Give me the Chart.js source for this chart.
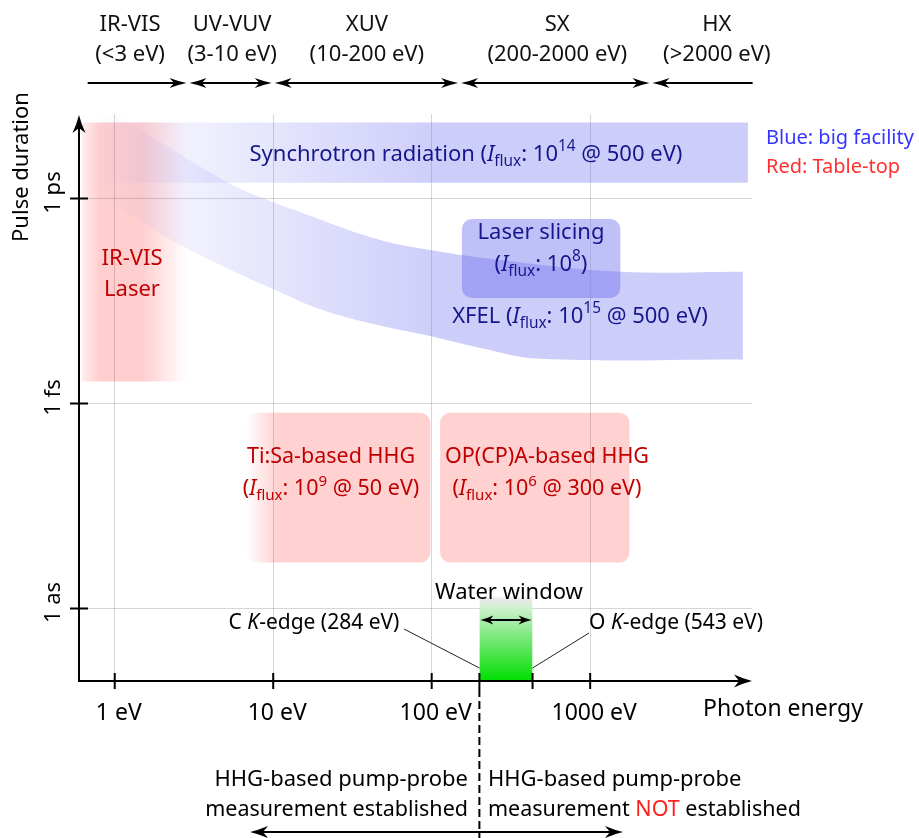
<!DOCTYPE html>
<html>
<head>
    <meta charset="utf-8">
    <title>Pulse duration vs photon energy</title>
    <script src="https://cdn.jsdelivr.net/npm/chart.js"></script>
    <style>
        body { margin: 0; background: #ffffff; }
        #wrap { width: 919px; height: 838px; position: relative; }
    </style>
</head>
<body>
<div id="wrap"><canvas id="chart"></canvas></div>
<script>
    // axis ticks
    const energyTicks = [1, 10, 100, 1000];
    const energyTickLabels = ['1 eV', '10 eV', '100 eV', '1000 eV'];
    const durationTicks = [1e-12, 1e-15, 1e-18];
    const durationTickLabels = ['1 ps', '1 fs', '1 as'];

    // spectral regions along the top (eV)
    const regionNames = ['IR-VIS', 'UV-VUV', 'XUV', 'SX', 'HX'];
    const regionRanges = ['(<3 eV)', '(3-10 eV)', '(10-200 eV)', '(200-2000 eV)', '(>2000 eV)'];
    const regionBounds = [0.675, 2.9, 10, 150, 2420, 10600];
    const regionLabelEnergy = [1.25, 5.5, 39, 620, 6300];

    // big facility sources (eV, s)
    const synchrotronEnergy = [0.6, 9900];
    const synchrotronDuration = [1.3e-11, 1.7e-12];
    const xfelUpperEnergy = [0.7, 1.94, 5.2, 9.9, 14.8, 44, 98, 270, 1550, 9200];
    const xfelUpperDuration = [2.8e-11, 6.7e-12, 1.7e-12, 8.9e-13, 6.3e-13, 2.6e-13, 1.76e-13, 1.26e-13, 8.5e-14, 8.5e-14];
    const xfelLowerEnergy = [0.68, 1.05, 2.4, 5.4, 10.3, 19.8, 41, 98, 203, 485, 9200];
    const xfelLowerDuration = [1.33e-12, 7.3e-13, 2.3e-13, 9e-14, 4.6e-14, 2.4e-14, 1.5e-14, 9.7e-15, 6.5e-15, 4.5e-15, 4.4e-15];
    const slicingEnergy = [155, 1550];
    const slicingDuration = [5e-13, 3.5e-14];

    // table-top sources
    const irVisEnergy = [0.62, 2.86];
    const irVisDuration = [1.3e-11, 2.1e-15];
    const tisaEnergy = [6.7, 98];
    const tisaDuration = [7.3e-16, 4.7e-18];
    const opcpaEnergy = [113, 1770];
    const opcpaDuration = [7.3e-16, 4.7e-18];

    // water window (eV) and its top
    const waterWindowEnergy = [200, 433];
    const waterWindowTop = 1.49e-18;

    const FONT = '"Noto Sans", "Open Sans", sans-serif';
    const BLUE = 'rgba(100,100,240,';
    const RED = 'rgba(255,0,0,';

    function edge(es, t) { return es.map(e => ({ x: e, y: t })); }
    function pts(es, ts) { return es.map((e, i) => ({ x: e, y: ts[i] })); }

    // horizontal gradient that fades in from the left
    function blueFade(c) {
        const chart = c.chart;
        if (!chart.chartArea) return BLUE + '0.32)';
        const x = chart.scales.x;
        const g = chart.ctx.createLinearGradient(x.getPixelForValue(0.7), 0, x.getPixelForValue(110), 0);
        g.addColorStop(0, BLUE + '0)');
        g.addColorStop(1, BLUE + '0.32)');
        return g;
    }
    function redFade(c) {
        const chart = c.chart;
        if (!chart.chartArea) return RED + '0.19)';
        const x = chart.scales.x;
        const g = chart.ctx.createLinearGradient(x.getPixelForValue(irVisEnergy[0]), 0, x.getPixelForValue(irVisEnergy[1]), 0);
        g.addColorStop(0, RED + '0.07)');
        g.addColorStop(0.17, RED + '0.19)');
        g.addColorStop(0.58, RED + '0.19)');
        g.addColorStop(1, RED + '0)');
        return g;
    }
    function greenFade(c) {
        const chart = c.chart;
        if (!chart.chartArea) return '#00dd00';
        const y = chart.scales.y;
        const g = chart.ctx.createLinearGradient(0, y.getPixelForValue(waterWindowTop), 0, chart.chartArea.bottom);
        g.addColorStop(0, 'rgba(200,200,200,0.2)');
        g.addColorStop(0.1, 'rgba(215,240,215,1)');
        g.addColorStop(1, 'rgb(0,222,0)');
        return g;
    }

    const common = { borderWidth: 0, borderColor: 'rgba(0,0,0,0)', pointRadius: 0, pointHoverRadius: 0 };

    // ---------- text helpers ----------
    function runFont(k, size) {
        const s = (k === 'sub' || k === 'sup') ? size * 0.7 : size;
        return (k === 'i' ? 'italic ' : '') + s + 'px ' + FONT;
    }
    function drawRuns(ctx, runs, x, y, size, color, align) {
        let w = 0;
        for (const r of runs) { ctx.font = runFont(r[1], size); w += ctx.measureText(r[0]).width; }
        let cx = align === 'left' ? x : align === 'right' ? x - w : x - w / 2;
        ctx.textAlign = 'left';
        ctx.textBaseline = 'middle';
        for (const r of runs) {
            ctx.font = runFont(r[1], size);
            ctx.fillStyle = r[2] || color;
            const dy = r[1] === 'sub' ? size * 0.3 : r[1] === 'sup' ? -size * 0.36 : 0;
            ctx.fillText(r[0], cx, y + dy);
            cx += ctx.measureText(r[0]).width;
        }
    }
    function flux(pre, exp, post) {
        return [[pre, 'n'], ['I', 'i'], ['flux', 'sub'], [': 10', 'n'], [exp, 'sup'], [post, 'n']];
    }
    function text(ctx, s, x, y, size, color, align) { drawRuns(ctx, [[s, 'n']], x, y, size, color, align || 'center'); }

    // ---------- arrows ----------
    function head(ctx, x, y, dir, len, half) {
        ctx.save();
        ctx.translate(x, y);
        ctx.rotate(dir);
        ctx.beginPath();
        ctx.moveTo(0, 0);
        ctx.quadraticCurveTo(-len * 0.45, -half * 0.3, -len, -half);
        ctx.lineTo(-len * 0.72, 0);
        ctx.lineTo(-len, half);
        ctx.quadraticCurveTo(-len * 0.45, half * 0.3, 0, 0);
        ctx.closePath();
        ctx.fill();
        ctx.restore();
    }
    function hArrow(ctx, x1, x2, y, left, right, len, half, lw) {
        ctx.lineWidth = lw;
        ctx.beginPath();
        ctx.moveTo(left ? x1 + len * 0.7 : x1, y);
        ctx.lineTo(right ? x2 - len * 0.7 : x2, y);
        ctx.stroke();
        if (left) head(ctx, x1, y, Math.PI, len, half);
        if (right) head(ctx, x2, y, 0, len, half);
    }
    function roundRect(ctx, x, y, w, h, r) {
        ctx.beginPath();
        ctx.moveTo(x + r, y);
        ctx.arcTo(x + w, y, x + w, y + h, r);
        ctx.arcTo(x + w, y + h, x, y + h, r);
        ctx.arcTo(x, y + h, x, y, r);
        ctx.arcTo(x, y, x + w, y, r);
        ctx.closePath();
    }
    function box(chart, es, ts, fill) {
        const ctx = chart.ctx, x = chart.scales.x, y = chart.scales.y;
        const x0 = x.getPixelForValue(es[0]), x1 = x.getPixelForValue(es[1]);
        const y0 = y.getPixelForValue(ts[0]), y1 = y.getPixelForValue(ts[1]);
        roundRect(ctx, x0, y0, x1 - x0, y1 - y0, 10);
        ctx.fillStyle = fill;
        ctx.fill();
    }

    const figure = {
        id: 'figure',
        beforeDatasetsDraw(chart) {
            const ctx = chart.ctx, x = chart.scales.x;
            ctx.save();
            const x0 = x.getPixelForValue(tisaEnergy[0]);
            const g = ctx.createLinearGradient(x0, 0, x0 + 32, 0);
            g.addColorStop(0, RED + '0)');
            g.addColorStop(1, RED + '0.18)');
            box(chart, tisaEnergy, tisaDuration, g);
            box(chart, opcpaEnergy, opcpaDuration, RED + '0.18)');
            box(chart, slicingEnergy, slicingDuration, 'rgba(140,140,242,0.55)');
            ctx.restore();
        },
        afterDraw(chart) {
            const ctx = chart.ctx, x = chart.scales.x, y = chart.scales.y, a = chart.chartArea;
            ctx.save();
            ctx.strokeStyle = '#000';
            ctx.fillStyle = '#000';

            // axes with arrows
            ctx.lineWidth = 2;
            ctx.beginPath();
            ctx.moveTo(a.left, a.bottom);
            ctx.lineTo(a.left, a.top + 12);
            ctx.moveTo(a.left - 1, a.bottom);
            ctx.lineTo(a.right - 12, a.bottom);
            ctx.stroke();
            head(ctx, a.left, a.top + 1, -Math.PI / 2, 18, 6.5);
            head(ctx, a.right, a.bottom, 0, 18, 6.5);

            // tick marks crossing the axes
            ctx.beginPath();
            durationTicks.forEach(v => {
                const p = y.getPixelForValue(v);
                ctx.moveTo(a.left - 9, p);
                ctx.lineTo(a.left + 9, p);
            });
            energyTicks.concat(waterWindowEnergy).forEach(v => {
                const p = x.getPixelForValue(v);
                ctx.moveTo(p, a.bottom - 8);
                ctx.lineTo(p, a.bottom + 8);
            });
            ctx.stroke();

            // y tick labels (rotated)
            durationTicks.forEach((v, i) => {
                ctx.save();
                ctx.translate(54, y.getPixelForValue(v) - 6);
                ctx.rotate(-Math.PI / 2);
                text(ctx, durationTickLabels[i], 0, 0, 22, '#000');
                ctx.restore();
            });

            // axis titles
            ctx.save();
            ctx.translate(22, 167);
            ctx.rotate(-Math.PI / 2);
            text(ctx, 'Pulse duration', 0, 0, 22, '#000');
            ctx.restore();
            text(ctx, 'Photon energy', 783, 709, 23, '#000');

            // spectral regions on top
            for (let i = 0; i < regionNames.length; i++) {
                const x1 = x.getPixelForValue(regionBounds[i]) + (i > 0 ? 1.5 : 0);
                const x2 = x.getPixelForValue(regionBounds[i + 1]) - (i < regionNames.length - 1 ? 1.5 : 0);
                ctx.fillStyle = '#000';
                hArrow(ctx, x1, x2, 83, i > 0, i < regionNames.length - 1, 17, 5, 2);
                const lx = x.getPixelForValue(regionLabelEnergy[i]);
                text(ctx, regionNames[i], lx, 25, 22, '#111');
                text(ctx, regionRanges[i], lx, 55, 22, '#111');
            }

            // legend
            text(ctx, 'Blue: big facility', 766, 138, 20, '#3535ff', 'left');
            text(ctx, 'Red: Table-top', 766, 167, 20, '#ff3030', 'left');

            // source labels
            const navy = '#16168c', dred = '#c00000';
            drawRuns(ctx, flux('Synchrotron radiation (', '14', ' @ 500 eV)'), 466, 155, 22, navy, 'center');
            text(ctx, 'Laser slicing', 541, 233, 22, navy);
            drawRuns(ctx, flux('(', '8', ')'), 541, 265, 22, navy, 'center');
            drawRuns(ctx, flux('XFEL (', '15', ' @ 500 eV)'), 580, 317, 22, navy, 'center');
            text(ctx, 'IR-VIS', 132, 259, 22, dred);
            text(ctx, 'Laser', 132, 290, 22, dred);
            text(ctx, 'Ti:Sa-based HHG', 331, 457, 21.5, dred);
            drawRuns(ctx, flux('(', '9', ' @ 50 eV)'), 331, 489, 21.5, dred, 'center');
            text(ctx, 'OP(CP)A-based HHG', 547, 457, 21.5, dred);
            drawRuns(ctx, flux('(', '6', ' @ 300 eV)'), 547, 489, 21.5, dred, 'center');

            // water window
            const wx0 = x.getPixelForValue(waterWindowEnergy[0]);
            const wx1 = x.getPixelForValue(waterWindowEnergy[1]);
            text(ctx, 'Water window', 509, 593, 22, '#000');
            ctx.fillStyle = '#000';
            hArrow(ctx, wx0 + 1, wx1 - 1, 620, true, true, 13, 4.5, 2);
            drawRuns(ctx, [['C ', 'n'], ['K', 'i'], ['-edge (284 eV)', 'n']], 314, 623, 21, '#000', 'center');
            drawRuns(ctx, [['O ', 'n'], ['K', 'i'], ['-edge (543 eV)', 'n']], 676, 623, 21, '#000', 'center');
            ctx.lineWidth = 1;
            ctx.strokeStyle = '#222';
            ctx.beginPath();
            ctx.moveTo(404, 629);
            ctx.lineTo(wx0, a.bottom - 13);
            ctx.moveTo(wx1, a.bottom - 13);
            ctx.lineTo(589, 633);
            ctx.stroke();

            // established / not established divider
            ctx.strokeStyle = '#000';
            ctx.lineWidth = 2;
            ctx.setLineDash([8, 4]);
            ctx.beginPath();
            ctx.moveTo(wx0, a.bottom + 8);
            ctx.lineTo(wx0, 838);
            ctx.stroke();
            ctx.setLineDash([]);
            text(ctx, 'HHG-based pump-probe', 468, 780, 22, '#000', 'right');
            text(ctx, 'measurement established', 468, 810, 21.5, '#000', 'right');
            text(ctx, 'HHG-based pump-probe', 488, 780, 22, '#000', 'left');
            drawRuns(ctx, [['measurement ', 'n'], ['NOT', 'n', '#ff2020'], [' established', 'n']], 488, 810, 21.5, '#000', 'left');
            ctx.fillStyle = '#000';
            hArrow(ctx, 250, 623, 832, true, true, 18, 6, 2);
            ctx.restore();
        }
    };

    const config = {
        type: 'line',
        data: {
            datasets: [
                { ...common, data: edge(synchrotronEnergy, synchrotronDuration[0]), fill: false },
                { ...common, data: edge(synchrotronEnergy, synchrotronDuration[1]), fill: '-1', backgroundColor: blueFade },
                { ...common, data: pts(xfelUpperEnergy, xfelUpperDuration), fill: false, tension: 0.4 },
                { ...common, data: pts(xfelLowerEnergy, xfelLowerDuration), fill: '-1', backgroundColor: blueFade, tension: 0.4 },
                { ...common, data: edge(irVisEnergy, irVisDuration[0]), fill: false },
                { ...common, data: edge(irVisEnergy, irVisDuration[1]), fill: '-1', backgroundColor: redFade },
                { ...common, data: edge(waterWindowEnergy, waterWindowTop), fill: 'start', backgroundColor: greenFade }
            ]
        },
        options: {
            responsive: true,
            maintainAspectRatio: false,
            animation: false,
            events: [],
            layout: { padding: { left: 0, right: 167, top: 114, bottom: 0 } },
            plugins: { legend: { display: false }, tooltip: { enabled: false } },
            scales: {
                x: {
                    type: 'logarithmic',
                    min: 0.595,
                    max: 10500,
                    afterBuildTicks: s => { s.ticks = energyTicks.map(v => ({ value: v })); },
                    afterFit: s => { s.height = 157; },
                    border: { display: false },
                    grid: { color: 'rgba(0,0,0,0.16)', lineWidth: 1, drawTicks: false },
                    ticks: {
                        autoSkip: false,
                        maxRotation: 0,
                        padding: 19,
                        labelOffset: 4,
                        color: '#000',
                        font: { family: FONT, size: 23 },
                        callback: v => energyTickLabels[energyTicks.indexOf(v)]
                    }
                },
                y: {
                    type: 'logarithmic',
                    min: 8.69e-20,
                    max: 1.7244e-11,
                    afterBuildTicks: s => { s.ticks = durationTicks.map(v => ({ value: v })); },
                    afterFit: s => { s.width = 79; },
                    border: { display: false },
                    grid: { color: 'rgba(0,0,0,0.16)', lineWidth: 1, drawTicks: false },
                    ticks: { display: false }
                }
            }
        },
        plugins: [figure]
    };

    new Chart(document.getElementById('chart').getContext('2d'), config);
</script>
</body>
</html>
